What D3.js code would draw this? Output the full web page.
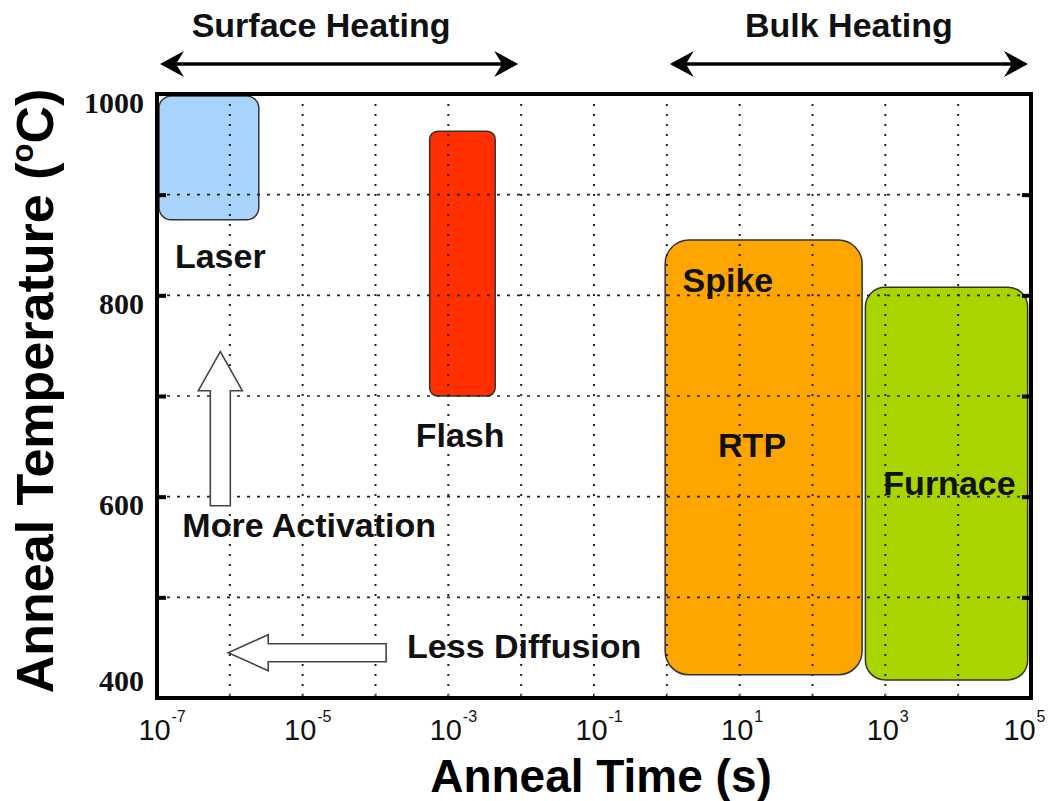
<!DOCTYPE html>
<html>

<head>
    <style>
        body {
            margin: 0;
            background-color: #ffffff;
        }

        svg {
            display: block;
            font-family: "Liberation Sans", Arial, sans-serif;
        }

        .grid-h {
            stroke: #222;
            stroke-width: 1.6;
            stroke-dasharray: 3, 7;
        }

        .grid-v {
            stroke: #222;
            stroke-width: 2;
            stroke-dasharray: 2, 8;
        }

        .label {
            font-weight: bold;
            font-size: 34px;
            text-anchor: middle;
            fill: #111;
        }
    </style>
</head>

<body>
    <div id="chart"></div>

    <script src="https://d3js.org/d3.v7.min.js"></script>
    <script>
        // process windows (time in s, temperature in degC)
        var processes = ["Laser", "Flash", "RTP", "Furnace"];
        var timeMin = [1e-7, 5.2e-4, 0.89, 500];
        var timeMax = [2.5e-6, 4.4e-3, 480, 9e4];
        var tempMin = [875, 700, 423, 418];
        var tempMax = [1000, 965, 857, 810];
        var colors = ["#a8d4fb", "#ff2f00", "#ffa500", "#a8d400"];

        // text inside the plot, placed in data units (centre x, baseline y)
        var labels = ["Laser", "Flash", "Spike", "RTP", "Furnace", "More Activation", "Less Diffusion"];
        var labelTime = [7.4e-7, 1.45e-3, 6.9, 14.8, 7600, 1.23e-5, 0.011];
        var labelTemp = [827, 649, 803, 639, 602, 560, 440];

        // axis ticks
        var timeTicks = [1e-7, 1e-5, 1e-3, 1e-1, 1e1, 1e3, 1e5];
        var tempTicks = [400, 600, 800, 1000];
        var gridTemps = [500, 600, 700, 800, 900];
        var gridTimes = [1e-6, 1e-5, 1e-4, 1e-3, 1e-2, 1e-1, 1, 10, 100, 1e3, 1e4];

        // hollow arrows and heating ranges
        var upArrow = { time: 7.4e-7, from: 591, to: 744 };
        var leftArrow = { temp: 445, from: 1.4e-4, to: 9.5e-7 };
        var ranges = ["Surface Heating", "Bulk Heating"];
        var rangeFrom = [1e-7, 1];
        var rangeTo = [1e-2, 1e5];

        var width = 1056, height = 801;
        var svg = d3.select("#chart").append("svg")
            .attr("width", width)
            .attr("height", height);

        var x = d3.scaleLog().domain([1e-7, 1e5]).range([157, 1031]);
        var y = d3.scaleLinear().domain([400, 1000]).range([698, 94]);

        // boxes first, grid goes over them
        svg.selectAll("rect.box")
            .data(processes)
            .enter()
            .append("rect")
            .attr("class", "box")
            .attr("x", (d, i) => x(timeMin[i]) + 2)
            .attr("y", (d, i) => y(tempMax[i]) + 2)
            .attr("width", (d, i) => x(timeMax[i]) - x(timeMin[i]) - 2)
            .attr("height", (d, i) => y(tempMin[i]) - y(tempMax[i]) - 2)
            .attr("rx", (d, i) => 0.12 * Math.min(x(timeMax[i]) - x(timeMin[i]), y(tempMin[i]) - y(tempMax[i])))
            .attr("fill", (d, i) => colors[i])
            .attr("stroke", "#333")
            .attr("stroke-width", 1.5);

        svg.selectAll("line.grid-h")
            .data(gridTemps)
            .enter()
            .append("line")
            .attr("class", "grid-h")
            .attr("x1", x.range()[0]).attr("x2", x.range()[1])
            .attr("y1", d => y(d)).attr("y2", d => y(d));

        svg.selectAll("line.grid-v")
            .data(gridTimes)
            .enter()
            .append("line")
            .attr("class", "grid-v")
            .attr("x1", d => x(d)).attr("x2", d => x(d))
            .attr("y1", y.range()[1]).attr("y2", y.range()[0]);

        // small inward ticks on left / right / bottom
        svg.append("g")
            .attr("transform", "translate(" + x.range()[0] + ",0)")
            .call(d3.axisLeft(y).tickValues(gridTemps).tickSize(-9).tickFormat(""))
            .call(g => g.select(".domain").remove())
            .selectAll("line").attr("stroke-width", 4);
        svg.append("g")
            .attr("transform", "translate(" + x.range()[1] + ",0)")
            .call(d3.axisRight(y).tickValues(gridTemps).tickSize(-9).tickFormat(""))
            .call(g => g.select(".domain").remove())
            .selectAll("line").attr("stroke-width", 4);
        svg.append("g")
            .attr("transform", "translate(0," + y.range()[0] + ")")
            .call(d3.axisBottom(x).tickValues(gridTimes).tickSize(-5).tickFormat(""))
            .call(g => g.select(".domain").remove())
            .selectAll("line").attr("stroke", "#999").attr("stroke-width", 1);

        // frame
        svg.append("rect")
            .attr("x", x.range()[0])
            .attr("y", y.range()[1])
            .attr("width", x.range()[1] - x.range()[0])
            .attr("height", y.range()[0] - y.range()[1])
            .attr("fill", "none")
            .attr("stroke", "#000")
            .attr("stroke-width", 4);

        // y tick labels (serif, like the original)
        var yAxis = svg.append("g")
            .attr("transform", "translate(" + (x.range()[0] - 13) + ",0)")
            .call(d3.axisLeft(y).tickValues(tempTicks).tickSize(0).tickPadding(0).tickFormat(d3.format("d")));
        yAxis.select(".domain").remove();
        yAxis.selectAll("text")
            .attr("font-family", "'Liberation Serif', 'Times New Roman', serif")
            .attr("font-weight", "bold")
            .attr("font-size", "30px")
            .attr("fill", "#111")
            .attr("dy", d => d === tempTicks[0] ? "-0.25em" : "0.6em");

        // x tick labels 10^n; the last one is pulled in so it stays on the page
        var lastShift = d => d === timeTicks[timeTicks.length - 1] ? -12 : -3;
        var xAxis = svg.append("g")
            .attr("transform", "translate(0," + y.range()[0] + ")")
            .call(d3.axisBottom(x).tickValues(timeTicks).tickSize(0).tickFormat(() => "10"));
        xAxis.select(".domain").remove();
        xAxis.selectAll("text")
            .attr("x", lastShift)
            .attr("y", 42)
            .attr("dy", 0)
            .attr("font-size", "29px")
            .attr("font-family", "'Liberation Sans', Arial, sans-serif")
            .attr("fill", "#111");
        xAxis.selectAll(".tick")
            .append("text")
            .attr("x", d => lastShift(d) + 17)
            .attr("y", 24)
            .attr("font-size", "16px")
            .attr("font-family", "'Liberation Sans', Arial, sans-serif")
            .attr("fill", "#111")
            .attr("text-anchor", "start")
            .text(d => Math.round(Math.log10(d)));

        // hollow arrows
        function hollowArrow(x0, y0, x1, y1, headLen, headHalf, shaftHalf) {
            var dx = x1 - x0, dy = y1 - y0;
            var len = Math.sqrt(dx * dx + dy * dy);
            var ux = dx / len, uy = dy / len, px = -uy, py = ux;
            var bx = x1 - ux * headLen, by = y1 - uy * headLen;
            var pts = [
                [x0 + px * shaftHalf, y0 + py * shaftHalf],
                [bx + px * shaftHalf, by + py * shaftHalf],
                [bx + px * headHalf, by + py * headHalf],
                [x1, y1],
                [bx - px * headHalf, by - py * headHalf],
                [bx - px * shaftHalf, by - py * shaftHalf],
                [x0 - px * shaftHalf, y0 - py * shaftHalf]
            ];
            return d3.line()(pts) + "Z";
        }

        svg.append("path")
            .attr("d", hollowArrow(x(upArrow.time), y(upArrow.from), x(upArrow.time), y(upArrow.to), 39, 22, 10))
            .attr("fill", "#fff")
            .attr("stroke", "#444")
            .attr("stroke-width", 1.6);
        svg.append("path")
            .attr("d", hollowArrow(x(leftArrow.from), y(leftArrow.temp), x(leftArrow.to), y(leftArrow.temp), 40, 18, 9))
            .attr("fill", "#fff")
            .attr("stroke", "#444")
            .attr("stroke-width", 1.6);

        // labels inside plot
        svg.selectAll("text.label")
            .data(labels)
            .enter()
            .append("text")
            .attr("class", "label")
            .attr("x", (d, i) => x(labelTime[i]))
            .attr("y", (d, i) => y(labelTemp[i]))
            .attr("font-size", (d, i) => i > 4 ? "33px" : "34px")
            .text(d => d);

        // heating range arrows over the plot
        function arrowHead(xt, yt, dir) {
            var pts = [[xt, yt], [xt - dir * 24, yt - 13], [xt - dir * 16, yt], [xt - dir * 24, yt + 13]];
            return d3.line()(pts) + "Z";
        }

        ranges.forEach(function (r, i) {
            var x0 = x(rangeFrom[i]) + 3, x1 = x(rangeTo[i]) - 3, ya = 64;
            svg.append("line")
                .attr("x1", x0 + 12).attr("x2", x1 - 12)
                .attr("y1", ya).attr("y2", ya)
                .attr("stroke", "#000")
                .attr("stroke-width", 3.5);
            svg.append("path").attr("d", arrowHead(x0, ya, -1)).attr("fill", "#000");
            svg.append("path").attr("d", arrowHead(x1, ya, 1)).attr("fill", "#000");
            svg.append("text")
                .attr("class", "label")
                .attr("x", (x0 + x1) / 2 - (i === 0 ? 18 : 0))
                .attr("y", 37)
                .text(r);
        });

        // axis titles
        svg.append("text")
            .attr("x", 601)
            .attr("y", 792)
            .attr("text-anchor", "middle")
            .attr("font-size", "46px")
            .attr("font-weight", "bold")
            .attr("fill", "#000")
            .text("Anneal Time (s)");

        var yt = svg.append("text")
            .attr("transform", "translate(53,391) rotate(-90)")
            .attr("text-anchor", "middle")
            .attr("font-size", "52px")
            .attr("font-weight", "bold")
            .attr("fill", "#000");
        yt.append("tspan").text("Anneal Temperature (");
        yt.append("tspan").attr("font-size", "31px").attr("dy", -20).text("o");
        yt.append("tspan").attr("dy", 20).text("C)");
    </script>
</body>

</html>
